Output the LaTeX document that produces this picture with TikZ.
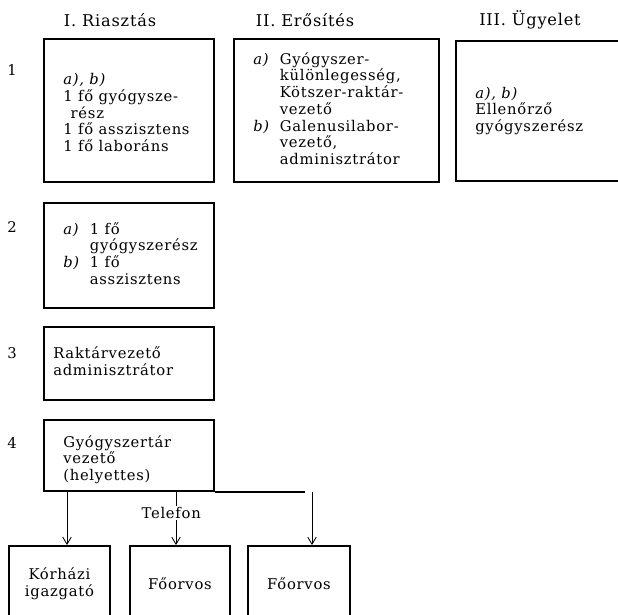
\documentclass[tikz,border=0pt]{standalone}
\usepackage{fontspec}
\setmainfont{DejaVu Serif}[LetterSpace=5]
\usepackage{tikz}
\usetikzlibrary{arrows.meta}

\newcommand{\lbl}[1]{\makebox[1.8em][l]{\textit{#1}}}
\newcommand{\ind}{\hspace*{1.8em}}

\begin{document}
\begin{tikzpicture}[x=0.025cm, y=-0.025cm,
                      every node/.style={font=\fontsize{10.5}{11.9}\selectfont},
                      box/.style={draw, line width=1.4pt, anchor=north west, inner sep=0pt},
                      txt/.style={anchor=west, align=left, inner sep=0pt},
                      head/.style={font=\fontsize{11.5}{13}\selectfont},
                      arr/.style={-{Straight Barb[length=5pt, width=6pt]}, line width=0.6pt}]
    \useasboundingbox (0,0) rectangle (618,614);
    \clip (0,0) rectangle (618,614);
    % column heads and row numbers
    \node[head] (hI)   at (110,20) {I. Riasztás};
    \node[head] (hII)  at (305,20) {II. Erősítés};
    \node[head] (hIII) at (530,20) {III. Ügyelet};
    \node (n1) at (12,70)  {1};
    \node (n2) at (12,227) {2};
    \node (n3) at (12,353) {3};
    \node (n4) at (12,443) {4};
    % row 1
    \node[box, minimum width=4.25cm, minimum height=3.575cm] (riaszt1) at (43,38) {};
    \node[box, minimum width=5.125cm, minimum height=3.575cm] (erosit1) at (233,38) {};
    \node[box, minimum width=4.25cm, minimum height=3.5cm] (ugyelet1) at (455,40) {};
    \node[txt] (riaszt1t) at ([xshift=0.5cm, yshift=-0.05cm]riaszt1.west)
        {\textit{a), b)}\\ 1 fő gyógysze-\\ \hspace*{0.5em}rész\\ 1 fő asszisztens\\ 1 fő laboráns};
    \node[txt] (erosit1t) at ([xshift=0.5cm, yshift=0.05cm]erosit1.west)
        {\lbl{a)}Gyógyszer-\\ \ind különlegesség,\\ \ind Kötszer-raktár-\\ \ind vezető\\
         \lbl{b)}Galenusilabor-\\ \ind vezető,\\ \ind adminisztrátor};
    \node[txt] (ugyelet1t) at ([xshift=0.5cm]ugyelet1.west)
        {\textit{a), b)}\\ Ellenőrző\\ gyógyszerész};
    % rows 2--4
    \node[box, minimum width=4.25cm, minimum height=2.625cm] (riaszt2) at (43,202) {};
    \node[box, minimum width=4.25cm, minimum height=1.825cm] (riaszt3) at (43,326) {};
    \node[box, minimum width=4.25cm, minimum height=1.775cm] (riaszt4) at (43,419) {};
    \node[txt] (riaszt2t) at ([xshift=0.5cm, yshift=0.05cm]riaszt2.west)
        {\lbl{a)}1 fő\\ \ind gyógyszerész\\ \lbl{b)}1 fő\\ \ind asszisztens};
    \node[txt] (riaszt3t) at ([xshift=0.25cm, yshift=0.05cm]riaszt3.west)
        {Raktárvezető\\ adminisztrátor};
    \node[txt] (riaszt4t) at ([xshift=0.5cm, yshift=-0.1cm]riaszt4.west)
        {Gyógyszertár\\ vezető\\ (helyettes)};
    % bottom row
    \node[box, minimum width=2.525cm, minimum height=1.9cm, align=center] (korhaz) at (8,545)
        {Kórházi\\ igazgató};
    \node[box, minimum width=2.5cm, minimum height=1.9cm] (foorv1) at (129,545) {Főorvos};
    \node[box, minimum width=2.55cm, minimum height=1.9cm] (foorv2) at (247,545) {Főorvos};
    % connectors
    \coordinate (bus) at (305,490);
    \coordinate (t1) at (67,490);
    \coordinate (t2) at (176,490);
    \coordinate (t3) at (312,492);
    \draw[line width=1.4pt] (riaszt4.south east) -- (riaszt4.south east -| bus);
    \draw[arr] (t1) -- (t1 |- korhaz.north);
    \draw[arr] (t2) -- node[pos=0.42, fill=white, inner sep=1pt, xshift=-0.12cm] (tel) {Telefon}
        (t2 |- foorv1.north);
    \draw[arr] (t3) -- (t3 |- foorv2.north);
  \end{tikzpicture}
\end{document}
